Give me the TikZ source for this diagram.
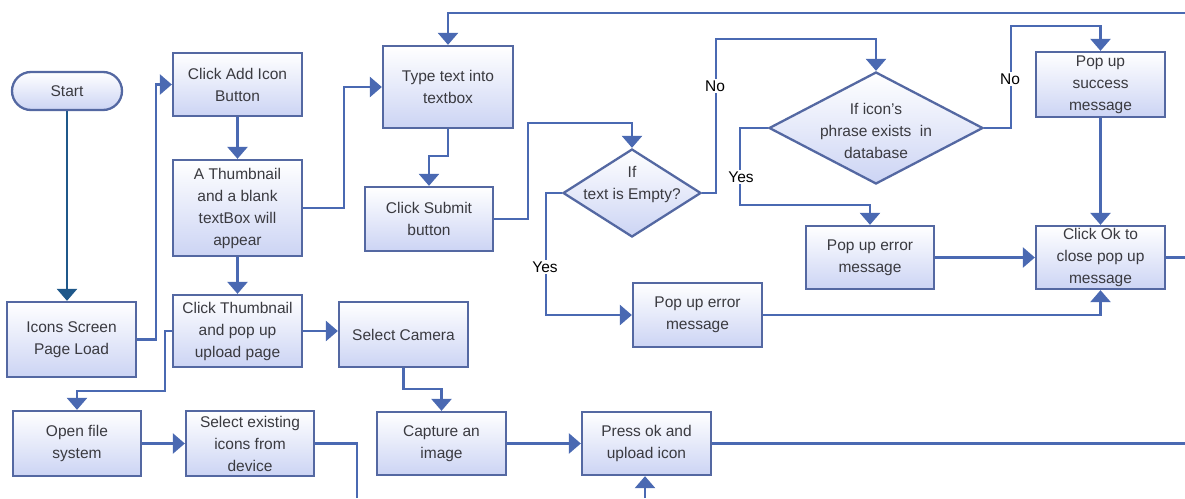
\documentclass[tikz,border=0pt]{standalone}
\usepackage{fontspec}
\setmainfont{Liberation Sans}
\usetikzlibrary{shapes.geometric,shapes.misc,arrows.meta}

\definecolor{linecol}{RGB}{74,105,178}
\definecolor{darkflow}{RGB}{31,88,138}
\definecolor{boxedge}{RGB}{84,104,162}
\definecolor{boxfill}{RGB}{204,212,244}
\definecolor{txt}{RGB}{58,58,64}
\newcommand\flowfont{\fontsize{15.5}{22}\selectfont}

\tikzset{
  base/.style={draw=boxedge, line width=2.3pt, top color=white, bottom color=boxfill,
    align=center, inner sep=0pt, font=\flowfont, text=txt},
  box/.style={base, rectangle, minimum width=129pt},
  terminal/.style={base, rounded rectangle, minimum width=110pt, minimum height=38pt},
  decision/.style={base, diamond},
  dlabel/.style={align=center, font=\flowfont, text=txt},
  flow/.style={draw=linecol, line width=2.6pt, -{Triangle[width=20pt,length=12pt]}},
  flowdark/.style={draw=darkflow, line width=2.6pt, -{Triangle[width=20pt,length=12pt]}},
  plain/.style={draw=linecol, line width=2.6pt},
  branch/.style={fill=white, font=\flowfont, text=black, inner sep=1.5pt}
}

\begin{document}
\begin{tikzpicture}[x=1pt,y=-1pt]
\useasboundingbox (0,0) rectangle (1185,498);

% steps
\node[terminal] (start) at (67,91) {Start};
\node[box, minimum height=75pt] (load) at (71.5,339.5) {Icons Screen\\Page Load};
\node[box, minimum height=63pt] (addicon) at (237.5,84.5) {Click Add Icon\\Button};
\node[box, minimum height=96pt] (thumb) at (237.5,208) {A Thumbnail\\and a blank\\textBox will\\appear};
\node[box, minimum height=72pt] (clickthumb) at (237.5,331) {Click Thumbnail\\and pop up\\upload page};
\node[box, minimum width=128pt, minimum height=65pt] (openfs) at (77,443.5) {Open file\\system};
\node[box, minimum width=128pt, minimum height=65pt] (existing) at (250,443.5) {Select existing\\icons from\\device};
\node[box, minimum width=130pt, minimum height=82pt] (typetext) at (448,87) {Type text into\\textbox};
\node[box, minimum width=128pt, minimum height=64pt] (submit) at (429,219) {Click Submit\\button};
\node[box, minimum height=65pt] (camera) at (403.5,334.5) {Select Camera};
\node[box, minimum height=63pt] (capture) at (441.5,443.5) {Capture an\\image};
\node[box, minimum height=63pt] (press) at (646.5,443.5) {Press ok and\\upload icon};
\node[box, minimum height=64pt] (err2) at (697.5,315) {Pop up error\\message};
\node[box, minimum width=128pt, minimum height=63pt] (err1) at (870,257.5) {Pop up error\\message};
\node[box, minimum height=65pt] (success) at (1100.5,84.5) {Pop up\\success\\message};
\node[box, minimum height=63pt] (closeok) at (1100.5,257.5) {Click Ok to\\close pop up\\message};

% decisions
\node[decision, minimum width=138pt, minimum height=88pt,
  label={[dlabel, yshift=9pt]center:If\\text is Empty?}] (empty) at (632,193) {};
\node[decision, minimum width=214pt, minimum height=112pt,
  label={[dlabel, yshift=-3pt]center:If icon's\\phrase exists\ \ in\\database}] (exists) at (876,128) {};

% loose ends at the border
\coordinate (outA) at (357,498);
\coordinate (inB) at (645,498);
\coordinate (outC) at (1185,443.5);
\coordinate (outD) at (1185,257.5);
\coordinate (inE) at (1185,13);

% connectors
\draw[flowdark] (start.south) -- (start.south |- load.north);
\draw[flow] (load.east) -- ++(19,0) |- (addicon.west);
\draw[flow] (addicon.south) -- (thumb.north);
\draw[flow] (thumb.east) -- ++(41,0) |- (typetext.west);
\draw[flow] (thumb.south) -- (clickthumb.north);
\draw[flow] (clickthumb.east) -- (clickthumb.east -| camera.west);
\draw[flow] (clickthumb.west) -- ++(-7,0) -- ++(0,60) -| (openfs.north);
\draw[flow] (openfs.east) -- (existing.west);
\draw[plain] (existing.east) -| (outA);
\draw[flow] (camera.south) -- ++(0,21) -| (capture.north);
\draw[flow] (capture.east) -- (press.west);
\draw[plain] (press.east) -- (outC);
\draw[flow] (inB) -- (inB |- press.south);
\draw[flow] (typetext.south) -- ++(0,27) -| (submit.north);
\draw[flow] (submit.east) -- ++(34,0) -- ++(0,-96) -| (empty.north);
\draw[flow] (empty.east) -- ++(14,0) -- ++(0,-154) -| (exists.north);
\draw[flow] (empty.west) -- ++(-16,0) |- (err2.west);
\draw[flow] (err2.east) -| (closeok.south);
\draw[flow] (exists.west) -- ++(-28,0) -- ++(0,77) -| (err1.north);
\draw[flow] (exists.east) -- ++(27,0) -- ++(0,-102) -| (success.north);
\draw[flow] (success.south) -- (closeok.north);
\draw[flow] (err1.east) -- (closeok.west);
\draw[plain] (closeok.east) -- (outD);
\draw[flow] (inE) -| (typetext.north);

% branch labels
\node[branch] (no1) at (715,86) {No};
\node[branch] (yes1) at (545,267) {Yes};
\node[branch] (yes2) at (741,177) {Yes};
\node[branch] (no2) at (1010,79) {No};
\end{tikzpicture}
\end{document}
